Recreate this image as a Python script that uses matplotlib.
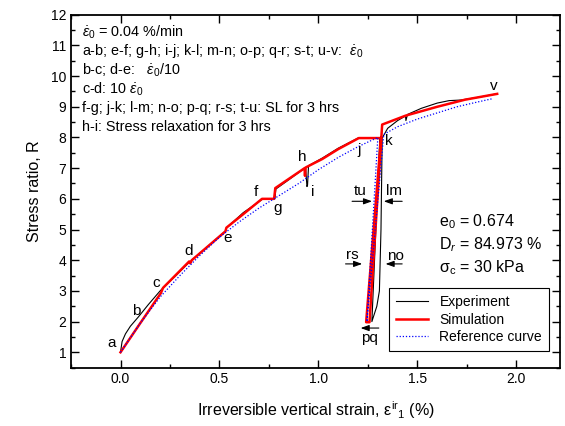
import matplotlib
matplotlib.use('Agg')
import matplotlib.pyplot as plt
from matplotlib.ticker import MultipleLocator

plt.rcParams['font.family'] = ['Liberation Sans', 'DejaVu Sans']
plt.rcParams['mathtext.fontset'] = 'custom'
plt.rcParams['mathtext.rm'] = 'Liberation Sans'
plt.rcParams['mathtext.it'] = 'Liberation Sans:italic'

# experiment (black)
exp_x = [0.0, 0.008, 0.025, 0.05, 0.09, 0.14, 0.2, 0.215, 0.22, 0.28, 0.35, 0.355, 0.36,
         0.45, 0.53, 0.535, 0.62, 0.72, 0.78, 0.785, 0.85, 0.935, 0.942, 0.945, 0.95,
         1.02, 1.1, 1.2, 1.31, 1.27, 1.295, 1.308, 1.312, 1.316, 1.318, 1.322,
         1.35, 1.4, 1.44, 1.442, 1.45, 1.52, 1.6, 1.66, 1.72, 1.8, 1.9]
exp_y = [1.0, 1.35, 1.6, 1.85, 2.15, 2.55, 3.0, 3.1, 3.13, 3.5, 3.95, 3.92, 4.0,
         4.5, 4.95, 5.05, 5.55, 6.0, 6.0, 6.32, 6.62, 7.02, 6.4, 6.45, 7.08,
         7.33, 7.65, 7.98, 7.98, 2.0, 2.5, 3.0, 4.0, 5.0, 6.0, 7.98,
         8.3, 8.55, 8.7, 8.55, 8.75, 8.95, 9.12, 9.2, 9.22, 9.3, 9.42]

# simulation (red)
sim_x = [0.0, 0.1, 0.204, 0.215, 0.347, 0.352, 0.36, 0.53, 0.535, 0.62, 0.715, 0.776,
         0.782, 0.93, 0.932, 0.935, 1.02, 1.1, 1.204, 1.316, 1.241, 1.258, 1.322,
         1.44, 1.6, 1.74, 1.903]
sim_y = [1.0, 1.95, 2.93, 3.1, 3.96, 3.9, 4.0, 4.94, 5.06, 5.5, 6.0, 6.0,
         6.35, 7.0, 6.75, 7.02, 7.3, 7.62, 7.98, 7.98, 1.98, 1.98, 8.42,
         8.71, 9.0, 9.23, 9.42]

# reference curve (blue dotted)
ref_x = [0.0, 0.1, 0.2, 0.3, 0.4, 0.5, 0.6, 0.7, 0.8, 0.9, 1.0, 1.1, 1.2, 1.3,
         1.245, 1.33, 1.4, 1.5, 1.6, 1.7, 1.8, 1.877]
ref_y = [1.0, 1.95, 2.8, 3.5, 4.15, 4.75, 5.25, 5.7, 6.1, 6.5, 6.95, 7.35, 7.7, 8.0,
         2.0, 8.1, 8.35, 8.6, 8.8, 9.0, 9.15, 9.26]

point_labels = ['a', 'b', 'c', 'd', 'e', 'f', 'g', 'h', 'i', 'j', 'k', 'v']
point_x = [-0.045, 0.078, 0.18, 0.343, 0.54, 0.683, 0.792, 0.918, 0.969, 1.204, 1.356, 1.885]
point_y = [1.3, 2.34, 3.26, 4.29, 4.73, 6.21, 5.7, 7.36, 6.21, 7.6, 7.87, 9.69]

fig = plt.figure(figsize=(5.65, 4.26), dpi=100)
ax = fig.add_axes([0.1257, 0.137, 0.8653, 0.8285])

ax.plot(exp_x, exp_y, color='black', lw=0.8, label='Experiment')
ax.plot(sim_x, sim_y, color='red', lw=1.8, label='Simulation')
ax.plot(ref_x, ref_y, color='blue', lw=0.9, ls=(0, (1, 1.5)), label='Reference curve')

for s, x, y in zip(point_labels, point_x, point_y):
    ax.text(x, y, s, fontsize=11, ha='center', va='center')

# arrows for the SL points on the unloading loop
arrows = [('tu', 1.17, 1.271, 5.92, 6.24, 1.213),
          ('lm', 1.423, 1.33, 5.92, 6.24, 1.381),
          ('rs', 1.137, 1.221, 3.88, 4.18, 1.17),
          ('no', 1.423, 1.339, 3.88, 4.13, 1.39),
          ('pq', 1.305, 1.213, 1.79, 1.47, 1.258)]
for s, x0, x1, ya, yt, xt in arrows:
    ax.annotate('', xy=(x1, ya), xytext=(x0, ya),
                arrowprops=dict(arrowstyle='-|>,head_length=0.5,head_width=0.18',
                                color='black', lw=0.8, shrinkA=0, shrinkB=0))
    ax.text(xt, yt, s, fontsize=11, ha='center', va='center')

eps = r'$\dot{\varepsilon}_0$'
info = [eps + ' = 0.04 %/min',
        'a-b; e-f; g-h; i-j; k-l; m-n; o-p; q-r; s-t; u-v:  ' + eps,
        'b-c; d-e:   ' + eps + '/10',
        'c-d: 10 ' + eps,
        'f-g; j-k; l-m; n-o; p-q; r-s; t-u: SL for 3 hrs',
        'h-i: Stress relaxation for 3 hrs']
for i, line in enumerate(info):
    ax.text(0.022, 0.95 - i * 0.0535, line, transform=ax.transAxes,
            fontsize=10.4, ha='left', va='center')

ax.text(1.608, 5.27, r'e$_0$ = 0.674', fontsize=11.5, va='center')
ax.text(1.608, 4.51, r'D$_r$ = 84.973 %', fontsize=11.5, va='center')
ax.text(1.608, 3.75, r'σ$_{\rm c}$ = 30 kPa', fontsize=11.5, va='center')

leg = ax.legend(loc='lower right', bbox_to_anchor=(0.992, 0.027), fontsize=10,
                frameon=True, fancybox=False, edgecolor='black', framealpha=1,
                handlelength=2.3, borderpad=0.5, labelspacing=0.25)
leg.get_frame().set_linewidth(0.8)

ax.set_xlim(-0.25, 2.22)
ax.set_ylim(0.5, 12)
ax.xaxis.set_major_locator(MultipleLocator(0.5))
ax.xaxis.set_minor_locator(MultipleLocator(0.25))
ax.yaxis.set_major_locator(MultipleLocator(1))
ax.yaxis.set_minor_locator(MultipleLocator(0.5))
ax.xaxis.set_major_formatter(matplotlib.ticker.FormatStrFormatter('%.1f'))
ax.tick_params(which='both', direction='in', top=True, right=True, labelsize=10, width=1)
ax.tick_params(which='major', length=6)
ax.tick_params(which='minor', length=3)
for sp in ax.spines.values():
    sp.set_linewidth(1.3)

ax.set_xlabel(r'Irreversible vertical strain, ε$^{\rm ir}{}_{\rm 1}$ (%)', fontsize=11.5, labelpad=9)
ax.set_ylabel('Stress ratio, R', fontsize=11.5, labelpad=6)

fig.savefig('out.png', dpi=100)
